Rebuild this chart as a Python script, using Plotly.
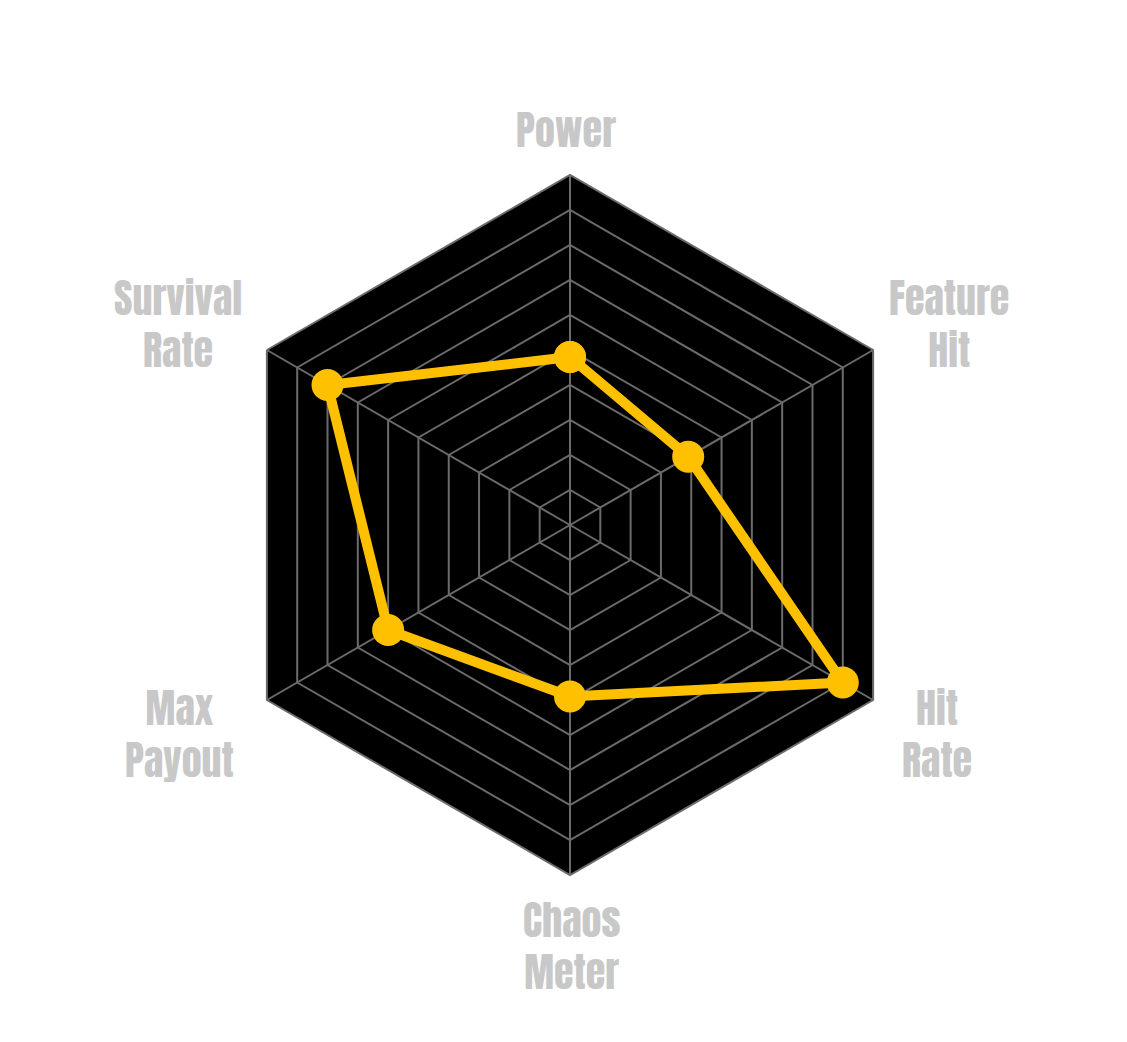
import plotly.graph_objects as go

# radar categories and scores (0-10 scale)
categories = ['Power', 'Feature<br>Hit', 'Hit<br>Rate', 'Chaos<br>Meter', 'Max<br>Payout', 'Survival<br>Rate']
scores = [4.8, 3.9, 9.0, 4.9, 6.0, 8.0]

# label centres in pixels (layout only)
label_px = [(558, 122), (941, 316), (929, 726), (563, 938), (171, 726), (170, 316)]

W, H = 1127, 1042
L, R, T, B = 212, 215, 167, 175
PW, PH = W - L - R, H - T - B

# close the polygon
r_vals = scores + scores[:1]
theta_vals = categories + categories[:1]

fig = go.Figure()
fig.add_trace(go.Scatterpolar(
    r=r_vals,
    theta=theta_vals,
    mode='lines+markers',
    line=dict(color='#FFC000', width=10),
    marker=dict(color='#FFC000', size=32),
    hoverinfo='skip',
    showlegend=False
))

label_font = dict(family='Anton, "Liberation Sans Narrow", "DejaVu Sans Condensed", sans-serif',
                  size=40, color='#C8C8C8')

for text, (px, py) in zip(categories, label_px):
    fig.add_annotation(
        text=text,
        xref='paper', yref='paper',
        x=(px - L) / PW, y=(H - B - py) / PH,
        xanchor='center', yanchor='middle',
        align='center',
        showarrow=False,
        font=label_font,
    )

fig.update_layout(
    width=W,
    height=H,
    paper_bgcolor='white',
    plot_bgcolor='white',
    margin=dict(l=L, r=R, t=T, b=B),
    polar=dict(
        bgcolor='black',
        gridshape='linear',
        radialaxis=dict(
            range=[0, 10],
            dtick=1,
            showticklabels=False,
            ticks='',
            showline=False,
            gridcolor='#6b6b6b',
            gridwidth=2,
        ),
        angularaxis=dict(
            direction='clockwise',
            rotation=90,
            gridcolor='#6b6b6b',
            gridwidth=2,
            linecolor='#6b6b6b',
            linewidth=2,
            ticks='',
            showticklabels=False,
        ),
    ),
)

fig.write_html("out.html")
